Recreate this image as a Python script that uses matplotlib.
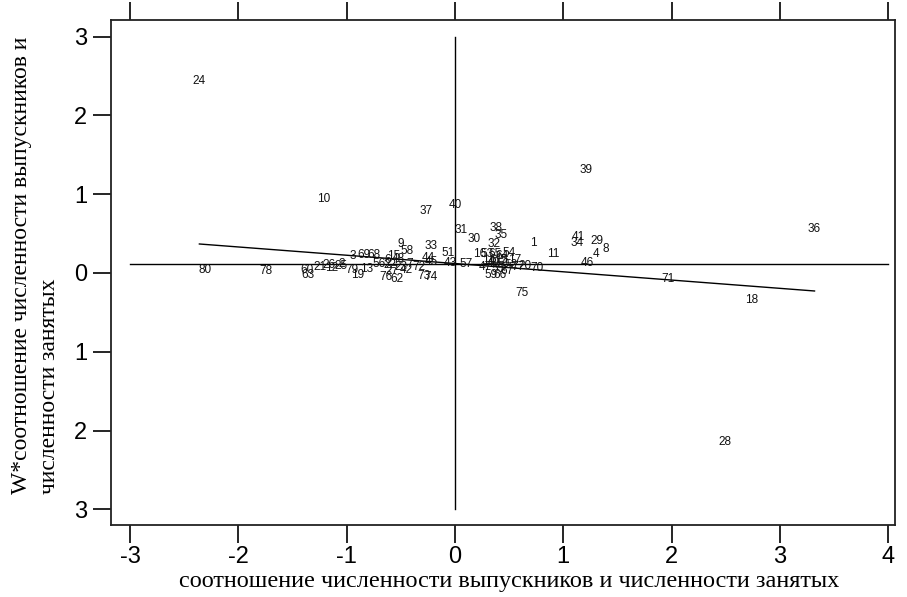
import matplotlib
matplotlib.use("Agg")
import matplotlib.pyplot as plt
import numpy as np

# Region ids and their (standardised value, spatial lag) coordinates
labels = [24, 10, 37, 40, 31, 30, 39, 36, 38, 35, 32, 1, 41, 34, 29, 8, 4, 46, 11, 70,
          75, 71, 18, 28, 80, 78, 60, 63, 21, 26, 12, 2, 3, 69, 68, 79, 19, 13, 9, 58,
          15, 48, 76, 62, 22, 23, 27, 42, 56, 33, 44, 45, 73, 74, 72, 51, 43, 57, 16, 53,
          65, 54, 64, 49, 50, 52, 55, 59, 66, 67, 77, 20, 47, 61, 5, 6, 7, 14, 17, 25]
x_vals = [-2.36, -1.21, -0.27, 0.00, 0.055, 0.175, 1.21, 3.32, 0.38, 0.43, 0.36, 0.72, 1.14, 1.13, 1.31, 1.39, 1.30, 1.22, 0.91, 0.76,
          0.62, 1.97, 2.74, 2.49, -2.31, -1.75, -1.37, -1.36, -1.25, -1.16, -1.14, -1.05, -0.94, -0.84, -0.75, -0.95, -0.90, -0.82, -0.50, -0.44,
          -0.57, -0.52, -0.64, -0.54, -0.60, -0.50, -0.58, -0.45, -0.70, -0.22, -0.25, -0.22, -0.29, -0.22, -0.33, -0.06, -0.04, 0.10, 0.23, 0.30,
          0.37, 0.50, 0.43, 0.35, 0.44, 0.52, 0.40, 0.33, 0.42, 0.48, 0.58, 0.65, 0.28, 0.38, 0.45, -0.62, -0.42, 0.31, 0.55, -1.05]
y_vals = [2.44, 0.94, 0.79, 0.86, 0.55, 0.43, 1.31, 0.56, 0.57, 0.48, 0.37, 0.38, 0.46, 0.38, 0.41, 0.30, 0.24, 0.13, 0.24, 0.06,
          -0.25, -0.08, -0.34, -2.14, 0.04, 0.03, 0.04, -0.03, 0.08, 0.10, 0.06, 0.11, 0.22, 0.23, 0.23, 0.04, -0.02, 0.05, 0.37, 0.28,
          0.22, 0.18, -0.05, -0.08, 0.10, 0.08, 0.02, 0.04, 0.12, 0.34, 0.19, 0.14, -0.04, -0.05, 0.08, 0.25, 0.13, 0.11, 0.24, 0.24,
          0.24, 0.25, 0.22, 0.13, 0.12, 0.10, 0.05, -0.02, -0.03, 0.03, 0.08, 0.09, 0.08, 0.16, 0.17, 0.16, 0.12, 0.15, 0.17, 0.09]

fit_slope = -0.105
fit_intercept = 0.12
mean_lag = 0.11

x_ticks = [-3, -2, -1, 0, 1, 2, 3, 4]
x_ticklabels = ["-3", "-2", "-1", "0", "1", "2", "3", "4"]
y_ticks = [3, 2, 1, 0, -1, -2, -3]
y_ticklabels = ["3", "2", "1", "0", "1", "2", "3"]

xlabel = "соотношение численности выпускников и численности занятых"
ylabel = "W*соотношение численности выпускников и\nчисленности занятых"

fig = plt.figure(figsize=(9.07, 5.97), dpi=100)
ax = fig.add_axes([111/907, 1 - 525/597, (895 - 111)/907, (525 - 20)/597])

ax.set_xlim(-3.176, 4.063)
ax.set_ylim(-3.198, 3.21)

# reference lines
ax.plot([x_ticks[0], x_ticks[-1]], [mean_lag, mean_lag], color="black", lw=1.0)
ax.plot([0, 0], [y_ticks[-1], y_ticks[0]], color="black", lw=1.0)

# regression line
xs = np.array([min(x_vals), max(x_vals)])
ax.plot(xs, fit_intercept + fit_slope * xs, color="black", lw=1.0)

for lab, xv, yv in zip(labels, x_vals, y_vals):
    ax.text(xv, yv, str(lab), ha="center", va="center", fontsize=8.5,
            family="Liberation Sans", color="#111111")

ax.set_xticks(x_ticks)
ax.set_xticklabels(x_ticklabels)
ax.set_yticks(y_ticks)
ax.set_yticklabels(y_ticklabels)
ax.tick_params(axis="both", direction="out", length=13, width=1.2, labelsize=17,
               colors="black", top=True)
ax.tick_params(axis="x", pad=2)
ax.tick_params(axis="y", pad=4)
for lab in ax.get_xticklabels() + ax.get_yticklabels():
    lab.set_family("Liberation Sans")
for sp in ax.spines.values():
    sp.set_linewidth(1.3)
    sp.set_color("#222222")

fig.text((177 + 842) / 2 / 907, 1 - 581/597, xlabel, ha="center", va="center",
         fontsize=17.5, family="Liberation Serif")
fig.text(11/907, 1 - 494/597, ylabel, ha="left", va="bottom", rotation=90,
         multialignment="left", fontsize=17, family="Liberation Serif", linespacing=1.45)

fig.savefig("out.png", dpi=100)
